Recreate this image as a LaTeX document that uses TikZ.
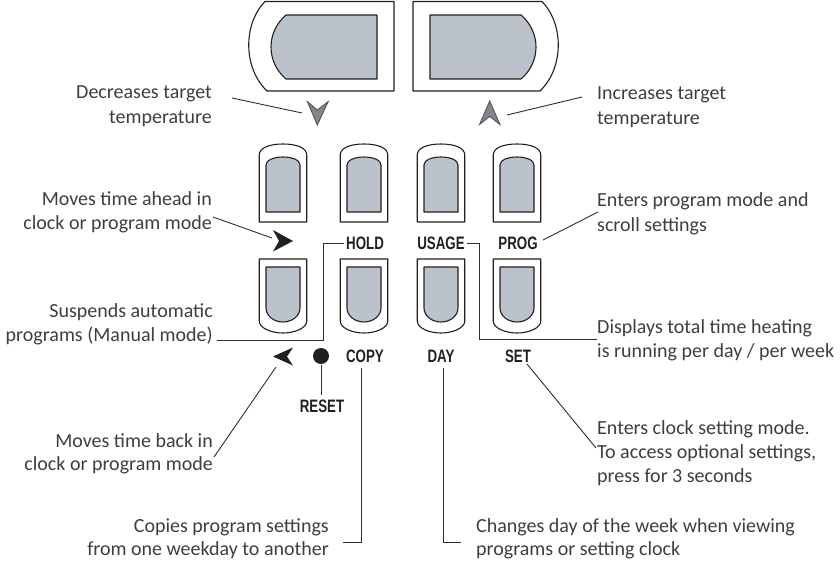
\documentclass[tikz,border=0pt]{standalone}
\usepackage{fontspec}
\setmainfont{Carlito}
\newfontfamily\lblfont[FakeStretch=0.74]{Liberation Sans}
\definecolor{keyfill}{RGB}{188,194,204}
\definecolor{chev}{RGB}{128,134,142}
\definecolor{ink}{RGB}{35,31,32}
\definecolor{txt}{RGB}{62,62,62}
\definecolor{leadc}{RGB}{45,45,45}
\begin{document}
\begin{tikzpicture}[x=1pt,y=-1pt,
  outline/.style={draw=ink, line width=1.1pt, fill=white, line join=round},
  innerkey/.style={draw=ink, line width=1.1pt, fill=keyfill, line join=round},
  leader/.style={draw=leadc, line width=0.9pt},
  descl/.style={font=\fontsize{20}{24}\selectfont, text=txt, inner sep=0pt, anchor=base east},
  descr/.style={font=\fontsize{20}{24}\selectfont, text=txt, inner sep=0pt, anchor=base west},
  keylbl/.style={font=\lblfont\bfseries\fontsize{18}{20}\selectfont, text=ink, inner sep=0pt, anchor=base},
  chevron/.style={fill=chev, draw=ink!80, line width=0.8pt, line join=miter},
  pointer/.style={fill=ink, draw=none}]
\useasboundingbox (0,0) rectangle (840,560);

% big buttons
\draw[outline] (265,1.5) -- (394,1.5) -- (394,91) -- (267,91) .. controls (243,68) and (243,24) .. cycle;
\draw[innerkey] (286,15) -- (377,15) -- (377,79) -- (286,79) .. controls (266,62) and (266,32) .. cycle;
\begin{scope}[shift={(807,0)}, xscale=-1]
\draw[outline] (265,1.5) -- (394,1.5) -- (394,91) -- (267,91) .. controls (243,68) and (243,24) .. cycle;
\draw[innerkey] (286,15) -- (377,15) -- (377,79) -- (286,79) .. controls (266,62) and (266,32) .. cycle;
\end{scope}

% chevrons
\draw[chevron] (307.3,101.5) -- (317.3,110) -- (328.3,101.5) -- (317.3,125) -- cycle;
\draw[chevron] (479.5,124.5) -- (489.7,116.5) -- (500,124.5) -- (489.7,101) -- cycle;

% small keys
\foreach \cx in {283,364,441,517}{
\begin{scope}[shift={(\cx,0)}]
\draw[outline] (-23.75,222) -- (-23.75,155) .. controls (-23.75,148) and (-14,144) .. (0,144) .. controls (14,144) and (23.75,148) .. (23.75,155) -- (23.75,222) -- cycle;
\draw[innerkey] (-17,212) -- (-17,165) .. controls (-17,160) and (-9,157) .. (0,157) .. controls (9,157) and (17,160) .. (17,165) -- (17,212) -- cycle;
\draw[outline] (-23.75,259) -- (23.75,259) -- (23.75,321) .. controls (23.75,328) and (12,333) .. (0,333) .. controls (-12,333) and (-23.75,328) .. (-23.75,321) -- cycle;
\draw[innerkey] (-17,267) -- (17,267) -- (17,308) .. controls (17,316) and (9,322) .. (0,322) .. controls (-9,322) and (-17,316) .. (-17,308) -- cycle;
\end{scope}}

% pointers and dot
\fill[pointer] (273,230) -- (293,241) -- (273,251.5) -- (279,241) -- cycle;
\fill[pointer] (293,347.5) -- (273,356.5) -- (293,365.5) -- (287,356.5) -- cycle;
\fill[ink] (321,356) circle[radius=8pt];

% key labels
\node[keylbl] (hold) at (365,249.5) {HOLD};
\node[keylbl] (usage) at (441,249.5) {USAGE};
\node[keylbl] (prog) at (518,249.5) {PROG};
\node[keylbl] (copy) at (365,362.5) {COPY};
\node[keylbl] (day) at (441,362.5) {DAY};
\node[keylbl] (set) at (518,362.5) {SET};
\node[keylbl] (reset) at (322,412) {RESET};

% descriptions
\node[descl] (dec1) at (212,98.5) {Decreases target};
\node[descl] (dec2) at (212,123.5) {temperature};
\node[descr] (inc1) at (597,99.5) {Increases target};
\node[descr] (inc2) at (597,124.5) {temperature};
\node[descl] (fwd1) at (212,205.5) {Moves time ahead in};
\node[descl] (fwd2) at (212,229.5) {clock or program mode};
\node[descr] (prg1) at (597,206.5) {Enters program mode and};
\node[descr] (prg2) at (597,231.5) {scroll settings};
\node[descl] (hld1) at (213,317.5) {Suspends automatic};
\node[descl] (hld2) at (213,341.5) {programs (Manual mode)};
\node[descr] (usg1) at (597,333.5) {Displays total time heating};
\node[descr] (usg2) at (597,357.5) {is running per day / per week};
\node[descl] (bck1) at (213,447) {Moves time back in};
\node[descl] (bck2) at (213,470.5) {clock or program mode};
\node[descr] (set1) at (597,434.5) {Enters clock setting mode.};
\node[descr] (set2) at (597,458.5) {To access optional settings,};
\node[descr] (set3) at (597,482.5) {press for 3 seconds};
\node[descl] (cpy1) at (329,532.5) {Copies program settings};
\node[descl] (cpy2) at (329,555.5) {from one weekday to another};
\node[descr] (day1) at (476,532.5) {Changes day of the week when viewing};
\node[descr] (day2) at (476,555.5) {programs or setting clock};

% leaders
\draw[leader] (232,98) -- (302,113);
\draw[leader] (507,115) -- (582,97);
\draw[leader] (213,217) -- (272,238);
\draw[leader] (543,240) -- (598,212);
\draw[leader] ([xshift=-2pt]hold.west) -| (323,340) -- (217,340);
\draw[leader] ([xshift=2pt]usage.east) -| (479,339) -- (597,339);
\draw[leader] (276,367) -- (214,457);
\draw[leader] (321,365) -- (321,395);
\draw[leader] (361,368) -- (361,542) -- (343,542);
\draw[leader] (443,368) -- (443,542) -- (461,542);
\draw[leader] (527,364) -- (596,448);
\end{tikzpicture}
\end{document}
